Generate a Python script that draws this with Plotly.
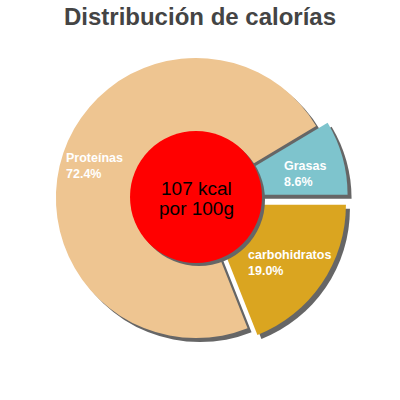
import plotly.graph_objects as go

# slices, in drawing order (clockwise starting from Grasas)
labels = ["Grasas", "carbohidratos", "Proteínas"]
percents = [8.6, 19.0, 72.4]
colors = ["#7EC4CD", "#DAA520", "#EEC591"]
pulls = [0.085, 0.085, 0]

kcal_line1 = "107 kcal"
kcal_line2 = "por 100g"

W, H = 400, 400
# pie centre and half size of domain, in pixels
cx, cy, half = 196, 198, 152
sh = 4  # shadow offset px


def dom(dx, dy):
    return dict(x=[(cx - half + dx) / W, (cx + half + dx) / W],
                y=[(H - cy - half - dy) / H, (H - cy + half - dy) / H])


common = dict(values=percents, labels=labels, sort=False, direction="clockwise",
              rotation=90 - percents[0] * 3.6, pull=pulls, textinfo="none",
              hoverinfo="none", showlegend=False)

fig = go.Figure()
# shadow
fig.add_trace(go.Pie(domain=dom(sh, sh), marker=dict(colors=["#666666"] * 3,
                     line=dict(width=0)), **common))
fig.add_trace(go.Pie(domain=dom(0, 0), marker=dict(colors=colors,
                     line=dict(width=0)), **common))

# red centre circle with shadow
rc, rx, ry = 66, 196, 197
for off, col in [(3, "#666666"), (0, "#FF0000")]:
    fig.add_shape(type="circle", xref="paper", yref="paper", layer="above",
                  x0=(rx - rc + off) / W, x1=(rx + rc + off) / W,
                  y0=(H - ry - rc - off) / H, y1=(H - ry + rc - off) / H,
                  fillcolor=col, line=dict(width=0))

fnt = "Liberation Sans, Arial, sans-serif"
fig.add_annotation(x=rx / W, y=1 - 189 / H, xref="paper", yref="paper", text=kcal_line1,
                   showarrow=False, font=dict(size=19, color="black", family=fnt))
fig.add_annotation(x=rx / W, y=1 - 208 / H, xref="paper", yref="paper", text=kcal_line2,
                   showarrow=False, font=dict(size=19, color="black", family=fnt))

# slice labels (top-left corner of text block, px)
label_pos = {"Proteínas": (64, 149), "Grasas": (282, 157), "carbohidratos": (246, 246)}
for lab, pct in zip(labels, percents):
    px_, py_ = label_pos[lab]
    fig.add_annotation(x=px_ / W, y=1 - py_ / H, xref="paper", yref="paper",
                       xanchor="left", yanchor="top", align="left", showarrow=False,
                       text=f"<b>{lab}<br>{pct:.1f}%</b>",
                       font=dict(size=12.5, color="white", family=fnt))

fig.update_layout(
    width=W, height=H, margin=dict(l=0, r=0, t=0, b=0),
    paper_bgcolor="white", plot_bgcolor="white",
    title=dict(text="<b>Distribución de calorías</b>", x=0.5, xanchor="center",
               y=1 - 17 / H, yanchor="middle",
               font=dict(size=24, color="#444444", family=fnt)),
)

fig.write_html("out.html", config={"displayModeBar": False},
               post_script="document.body.style.margin='0';")
